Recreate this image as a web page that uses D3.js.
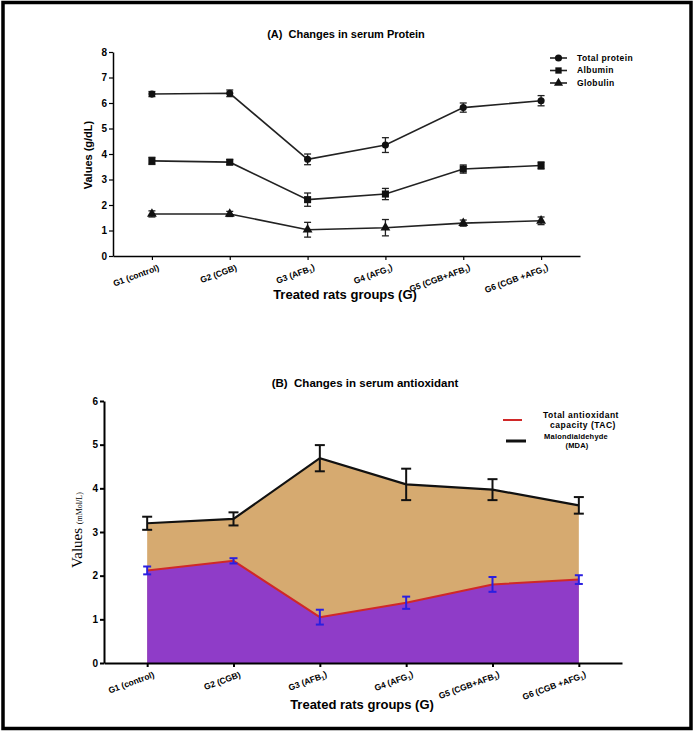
<!DOCTYPE html>
<html><head><meta charset="utf-8">
<script src="https://cdn.jsdelivr.net/npm/d3@7"></script>
<style>
body{margin:0;background:#fff;}
svg{display:block;font-family:"Liberation Sans",Arial,sans-serif;}
</style></head><body>
<svg id="c" width="694" height="733"></svg>
<script>
// ---------- DATA ----------
const groups = ["G1 (control)", "G2 (CGB)", "G3 (AFB₁)", "G4 (AFG₁)", "G5 (CGB+AFB₁)", "G6 (CGB +AFG₁)"];
const totalProtein = [6.35, 6.38, 3.79, 4.35, 5.82, 6.09];
const totalProteinErr = [0.1, 0.13, 0.21, 0.29, 0.18, 0.2];
const albumin = [3.73, 3.68, 2.21, 2.43, 3.41, 3.55];
const albuminErr = [0.14, 0.1, 0.26, 0.22, 0.16, 0.14];
const globulin = [1.65, 1.65, 1.03, 1.11, 1.29, 1.38];
const globulinErr = [0.12, 0.1, 0.29, 0.32, 0.12, 0.15];
const mda = [3.2, 3.3, 4.69, 4.09, 3.97, 3.61];
const mdaErr = [0.15, 0.15, 0.3, 0.36, 0.24, 0.19];
const tac = [2.12, 2.34, 1.05, 1.38, 1.8, 1.91];
const tacErr = [0.09, 0.06, 0.17, 0.14, 0.17, 0.1];
const ticksA = [0,1,2,3,4,5,6,7,8];
const ticksB = [0,1,2,3,4,5,6];

const svg = d3.select("#c");

// border
svg.append("rect").attr("x",3).attr("y",2.5).attr("width",688).attr("height",726)
  .attr("fill","none").attr("stroke","#000").attr("stroke-width",3.5);

function catLabels(g){
  g.selectAll(".tick text").each(function(d){
    const t = d3.select(this);
    t.text(null).attr("text-anchor","end").attr("transform","rotate(-20)")
      .attr("x",2).attr("dy","0.9em").attr("y",8)
      .style("font-weight","bold").style("font-size","8.5px");
    const parts = d.split("₁");
    parts.forEach((p,i)=>{
      t.append("tspan").text(p).attr("dy", i===0 ? null : "-0.3em");
      if(i<parts.length-1) t.append("tspan").text("1").style("font-size","6px").attr("dy","0.3em");
    });
  });
}

// ---------- CHART A ----------
{
  const x = d3.scalePoint().domain(groups).range([113,580]).padding(0.5);
  const y = d3.scaleLinear().domain([0,8]).range([256,52]);
  const ax = svg.append("g").attr("transform","translate(0,256)")
    .call(d3.axisBottom(x).tickSize(4).tickSizeOuter(0));
  ax.select(".domain").attr("stroke-width",1.5);
  ax.selectAll(".tick line").attr("stroke-width",1.2);
  catLabels(ax);
  const ay = svg.append("g").attr("transform","translate(113,0)")
    .call(d3.axisLeft(y).tickValues(ticksA).tickFormat(d3.format("d")).tickSize(4).tickSizeOuter(0));
  ay.select(".domain").attr("stroke-width",1.5);
  ay.selectAll(".tick line").attr("stroke-width",1.2);
  ay.selectAll(".tick text").style("font-weight","bold").style("font-size","10px").attr("x",-6);

  const series = [
    {v:totalProtein, e:totalProteinErr, sym:d3.symbolCircle, size:40},
    {v:albumin, e:albuminErr, sym:d3.symbolSquare, size:50},
    {v:globulin, e:globulinErr, sym:d3.symbolTriangle, size:42}
  ];
  const line = d3.line().x((d,i)=>x(groups[i])).y(d=>y(d));
  series.forEach(s=>{
    svg.append("path").attr("d",line(s.v)).attr("fill","none").attr("stroke","#222").attr("stroke-width",1.6);
    const eg = svg.append("g").attr("stroke","#222").attr("stroke-width",1.3);
    s.v.forEach((v,i)=>{
      const cx = x(groups[i]), y1 = y(v+s.e[i]), y2 = y(v-s.e[i]);
      eg.append("line").attr("x1",cx).attr("x2",cx).attr("y1",y1).attr("y2",y2);
      eg.append("line").attr("x1",cx-3.5).attr("x2",cx+3.5).attr("y1",y1).attr("y2",y1);
      eg.append("line").attr("x1",cx-3.5).attr("x2",cx+3.5).attr("y1",y2).attr("y2",y2);
    });
    svg.append("g").selectAll("path").data(s.v).join("path")
      .attr("transform",(d,i)=>`translate(${x(groups[i])},${y(d)})`)
      .attr("d",d3.symbol().type(s.sym).size(s.size)).attr("fill","#111");
  });
  // legend
  const leg = [["Total protein",d3.symbolCircle,40],["Albumin",d3.symbolSquare,40],["Globulin",d3.symbolTriangle,36]];
  leg.forEach((l,i)=>{
    const yy = 58 + i*12.5;
    svg.append("line").attr("x1",550).attr("x2",567).attr("y1",yy).attr("y2",yy).attr("stroke","#222").attr("stroke-width",1.6);
    svg.append("path").attr("transform",`translate(558.5,${yy})`).attr("d",d3.symbol().type(l[1]).size(l[2])).attr("fill","#111");
    svg.append("text").attr("x",577).attr("y",yy).attr("dy","0.35em").text(l[0])
      .style("font-weight","bold").style("font-size","8.5px").style("letter-spacing","0.4px");
  });
  svg.append("text").attr("x",346).attr("y",38).attr("text-anchor","middle")
    .style("font-weight","bold").style("font-size","11px").attr("xml:space","preserve").text("(A)  Changes in serum Protein");
  svg.append("text").attr("x",345).attr("y",299).attr("text-anchor","middle")
    .style("font-weight","bold").style("font-size","13px").text("Treated rats groups (G)");
  svg.append("text").attr("transform","translate(92,155) rotate(-90)").attr("text-anchor","middle")
    .style("font-weight","bold").style("font-size","11px").text("Values (g/dL)");
}

// ---------- CHART B ----------
{
  const x = d3.scalePoint().domain(groups).range([104,622]).padding(0.5);
  const y = d3.scaleLinear().domain([0,6]).range([663,401]);
  const area = d3.area().x((d,i)=>x(groups[i])).y0(y(0)).y1(d=>y(d));
  const line = d3.line().x((d,i)=>x(groups[i])).y(d=>y(d));
  svg.append("path").attr("d",area(mda)).attr("fill","#D6AA70");
  svg.append("path").attr("d",area(tac)).attr("fill","#8F3CC8");
  svg.append("path").attr("d",line(mda)).attr("fill","none").attr("stroke","#111").attr("stroke-width",2.2);
  svg.append("path").attr("d",line(tac)).attr("fill","none").attr("stroke","#D02828").attr("stroke-width",2);

  function errs(v,e,col,w,cap){
    const eg = svg.append("g").attr("stroke",col).attr("stroke-width",w);
    v.forEach((val,i)=>{
      const cx = x(groups[i]), y1 = y(val+e[i]), y2 = y(val-e[i]);
      eg.append("line").attr("x1",cx).attr("x2",cx).attr("y1",y1).attr("y2",y2);
      eg.append("line").attr("x1",cx-cap).attr("x2",cx+cap).attr("y1",y1).attr("y2",y1);
      eg.append("line").attr("x1",cx-cap).attr("x2",cx+cap).attr("y1",y2).attr("y2",y2);
    });
  }
  errs(mda,mdaErr,"#111",2,5);
  errs(tac,tacErr,"#2A1FE0",2,4);

  const ax = svg.append("g").attr("transform","translate(0,663)")
    .call(d3.axisBottom(x).tickSize(4).tickSizeOuter(0));
  ax.select(".domain").attr("stroke-width",2);
  ax.selectAll(".tick line").attr("stroke-width",2);
  catLabels(ax);
  const ay = svg.append("g").attr("transform","translate(104,0)")
    .call(d3.axisLeft(y).tickValues(ticksB).tickFormat(d3.format("d")).tickSize(4).tickSizeOuter(0));
  ay.select(".domain").attr("stroke-width",2);
  ay.selectAll(".tick line").attr("stroke-width",2);
  ay.selectAll(".tick text").style("font-weight","bold").style("font-size","10px").attr("x",-6);

  // legend
  svg.append("line").attr("x1",503).attr("x2",522).attr("y1",420).attr("y2",420).attr("stroke","#D02828").attr("stroke-width",2);
  svg.append("line").attr("x1",506).attr("x2",526).attr("y1",441).attr("y2",441).attr("stroke","#111").attr("stroke-width",3);
  const lt = (t,xx,yy,fs)=>svg.append("text").attr("x",xx).attr("y",yy).attr("text-anchor","middle")
    .style("font-weight","bold").style("font-size",fs).style("letter-spacing","0.5px").text(t);
  lt("Total antioxidant",581,418,"8.5px");
  lt("capacity (TAC)",583,428,"8.5px");
  lt("Malondialdehyde",576,439,"7.5px").style("letter-spacing","0.2px");
  lt("(MDA)",577,448,"7.5px").style("letter-spacing","0.2px");

  svg.append("text").attr("x",365).attr("y",387).attr("text-anchor","middle")
    .style("font-weight","bold").style("font-size","11.5px").attr("xml:space","preserve").text("(B)  Changes in serum antioxidant");
  svg.append("text").attr("x",362).attr("y",709).attr("text-anchor","middle")
    .style("font-weight","bold").style("font-size","13px").text("Treated rats groups (G)");
  const yl = svg.append("text").attr("transform","translate(82,530) rotate(-90)").attr("text-anchor","middle")
    .style("font-family","'Liberation Serif','Times New Roman',serif");
  yl.append("tspan").text("Values ").style("font-size","15px");
  yl.append("tspan").text("(mMol/L)").style("font-size","8px");
}
</script>
</body></html>
